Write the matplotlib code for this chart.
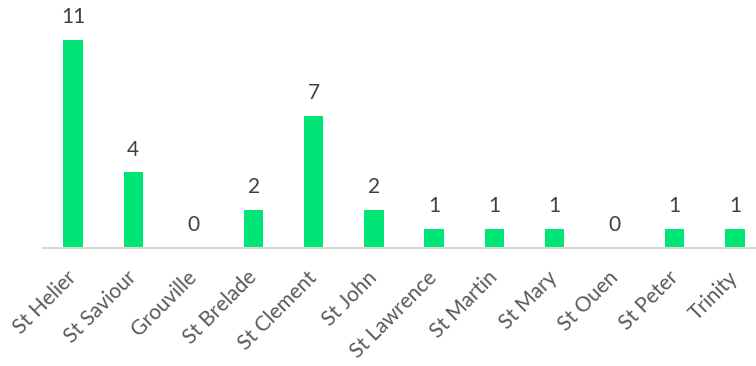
import matplotlib.pyplot as plt

parishes = ['St Helier', 'St Saviour', 'Grouville', 'St Brelade', 'St Clement',
            'St John', 'St Lawrence', 'St Martin', 'St Mary', 'St Ouen',
            'St Peter', 'Trinity']
counts = [11, 4, 0, 2, 7, 2, 1, 1, 1, 0, 1, 1]

plt.rcParams['font.family'] = ['Lato', 'DejaVu Sans']

fig = plt.figure(figsize=(7.56, 3.66), dpi=100)
# axes spans from the baseline up to the top edge
ax = fig.add_axes([43 / 756, 118 / 366, 713 / 756, 248 / 366])

x = range(len(parishes))
bars = ax.bar(x, counts, width=0.32, color='#00E676', zorder=2)

for xi, v in zip(x, counts):
    ax.text(xi, v + 0.68, str(v), ha='center', va='bottom',
            fontsize=15, color='#404040')

ax.set_xlim(-0.5, 11.35)
ax.set_ylim(0, 248 / 18.9)

ax.set_xticks(list(x))
ax.set_xticklabels(parishes, rotation=45, ha='right', va='center',
                   rotation_mode='anchor', fontsize=15, color='#595959')
ax.tick_params(axis='x', length=0, pad=19)
ax.set_yticks([])

for side in ['top', 'right', 'left']:
    ax.spines[side].set_visible(False)
ax.spines['bottom'].set_color('#D9D9D9')
ax.spines['bottom'].set_linewidth(1.5)

fig.savefig('out.png', dpi=100)
